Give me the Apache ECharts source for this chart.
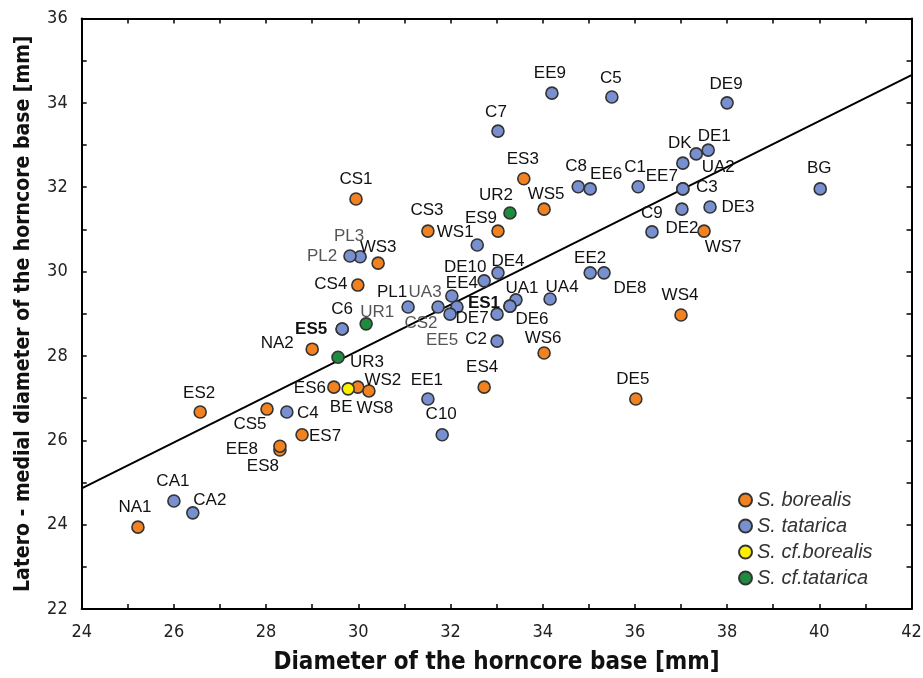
<!DOCTYPE html>
<html>
<head>
<meta charset="utf-8">
<script src="https://cdn.jsdelivr.net/npm/echarts@6/dist/echarts.min.js"></script>
<style>
html,body{margin:0;padding:0;background:#fff;}
#chart{width:923px;height:678px;}
</style>
</head>
<body>
<div id="chart"></div>
<script>
// ---- data ----
const borealisNames = ['CS1','CS3','ES9','ES3','WS5','WS3','CS4','WS7','NA2','WS6','ES4','DE5','WS4','ES6','WS2','WS8','CS5','ES7','ES8','EE8','ES2','NA1','ES1','ES5'];
const borealisX = [29.95,31.51,33.03,33.59,34.03,30.43,29.99,37.50,29.00,34.03,32.73,36.02,37.00,29.47,29.99,30.23,28.02,28.78,28.30,28.30,26.57,25.22,33.29,29.65];
const borealisY = [31.72,30.96,30.96,32.20,31.48,30.20,29.68,30.96,28.16,28.07,27.26,26.98,28.97,27.26,27.26,27.17,26.74,26.13,25.77,25.86,26.67,23.94,29.18,28.64];

const tataricaNames = ['EE9','C5','DE9','C7','C8','EE6','C1','DK','UA2','DE1','C3','EE7','DE3','DE2','C9','BG','WS1','PL3','PL2','DE10','DE4','EE4','PL1','UA3','CS2','EE5','DE7','UA1','DE6','UA4','EE2','DE8','C2','C6','EE1','C10','C4','CA1','CA2'];
const tataricaX = [34.20,35.50,38.00,33.03,34.77,35.03,36.07,37.04,37.33,37.59,37.04,37.04,37.63,37.02,36.37,40.02,32.58,30.04,29.82,32.73,33.03,32.03,31.08,31.73,32.14,31.99,33.01,33.42,33.29,34.16,35.03,35.33,33.01,29.65,31.51,31.82,28.45,26.00,26.41];
const tataricaY = [34.23,34.14,34.00,33.33,32.01,31.96,32.01,32.57,32.79,32.88,31.96,31.96,31.53,31.48,30.94,31.96,30.63,30.35,30.37,29.78,29.97,29.42,29.16,29.16,29.16,28.99,28.99,29.33,29.18,29.35,29.97,29.97,28.35,28.64,26.98,26.13,26.67,24.56,24.28];

const cfBorealisNames = ['BE'];
const cfBorealisX = [29.78];
const cfBorealisY = [27.22];

const cfTataricaNames = ['UR2','UR1','UR3'];
const cfTataricaX = [33.29,30.17,29.56];
const cfTataricaY = [31.39,28.76,27.97];

const seriesNames = ['S. borealis','S. tatarica','S. cf.borealis','S. cf.tatarica'];
const trendSlope = 0.5442;
const trendIntercept = 11.80;
const xMin = 24, xMax = 42, yMin = 22, yMax = 36;

// ---- label placement (pixel offsets from the point) ----
const labelOffset = {
  CS1:[0,-20], CS3:[-1,-21], ES9:[-17,-13], ES3:[-1,-19], WS5:[2,-15], WS3:[0,-16], CS4:[-27,-1],
  WS7:[19,16], NA2:[-35,-6], WS6:[-1,-15], ES4:[-2,-20], DE5:[-3,-20], WS4:[-1,-20], ES6:[-24,1],
  WS2:[25,-7], WS8:[6,17], CS5:[-17,15], ES7:[23,2], EE8:[-38,3], ES8:[-17,16], ES2:[-1,-19],
  NA1:[-3,-20], ES1:[-26,-3], ES5:[-31,0],
  EE9:[-2,-20], C5:[-1,-19], DE9:[-1,-19], C7:[-2,-19], C8:[-2,-20], EE6:[16,-15], C1:[-3,-19],
  DK:[-3,-20], UA2:[22,13], DE1:[6,-14], C3:[24,-2], EE7:[-21,-13], DE3:[28,0], DE2:[0,19],
  C9:[0,-19], BG:[-1,-21], WS1:[-22,-13], PL3:[-11,-20], PL2:[-28,0], DE10:[-19,-14], DE4:[10,-12],
  EE4:[10,-13], PL1:[-16,-15], UA3:[-13,-15], CS2:[-36,16], EE5:[-8,26], DE7:[-25,4], UA1:[6,-12],
  DE6:[22,13], UA4:[12,-12], EE2:[0,-15], DE8:[26,15], C2:[-21,-2], C6:[0,-20], EE1:[-1,-19],
  C10:[-1,-20], C4:[21,1], CA1:[-1,-20], CA2:[17,-13],
  UR2:[-14,-18], UR1:[11,-12], UR3:[29,5], BE:[-7,18]
};
const grayLabels = ['PL3','PL2','UR1','UA3','CS2','EE5'];
const boldLabels = ['ES1','ES5'];

const colors = ['#F28220','#7890D0','#FFF000','#1E8B40'];

function buildPoints(names, xs, ys) {
  return names.map((n, i) => {
    const off = labelOffset[n] || [0, -18];
    return {
      name: n,
      value: [xs[i], ys[i]],
      label: {
        offset: off,
        color: grayLabels.includes(n) ? '#555' : '#111',
        fontWeight: boldLabels.includes(n) ? 'bold' : 'normal'
      }
    };
  });
}

function scatterSeries(name, names, xs, ys, color) {
  return {
    name: name,
    type: 'scatter',
    symbol: 'circle',
    symbolSize: 12,
    itemStyle: { color: color, borderColor: '#333', borderWidth: 1.6, opacity: 1 },
    label: {
      show: true,
      position: 'inside',
      formatter: p => p.name,
      fontFamily: '"Liberation Sans", Arial, sans-serif',
      fontSize: 17,
      align: 'center',
      verticalAlign: 'middle'
    },
    emphasis: { disabled: true },
    data: buildPoints(names, xs, ys),
    z: 3
  };
}

const chart = echarts.init(document.getElementById('chart'), null, { renderer: 'canvas' });

const narrow = '"Liberation Sans Narrow", "DejaVu Sans Condensed", "Liberation Sans", sans-serif';
const tickFmt = v => (v % 2 === 0 ? String(v) : '');

const option = {
  animation: false,
  backgroundColor: '#fff',
  grid: { left: 81.7, right: 11.5, top: 18.5, bottom: 69, containLabel: false, outerBoundsMode: 'none' },
  legend: {
    data: seriesNames,
    orient: 'vertical',
    left: 733,
    top: 485,
    itemWidth: 13,
    itemHeight: 13,
    itemGap: 6,
    icon: 'circle',
    textStyle: { fontStyle: 'italic', fontSize: 20, color: '#333', fontFamily: '"Liberation Sans", Arial, sans-serif', lineHeight: 20 }
  },
  xAxis: [{
    type: 'value', min: xMin, max: xMax, interval: 1,
    name: 'Diameter of the horncore base [mm]',
    nameLocation: 'middle', nameGap: 42,
    nameTextStyle: { fontFamily: narrow, fontWeight: 'bold', fontSize: 24, color: '#111' },
    axisLine: { show: true, onZero: false, lineStyle: { color: '#000', width: 2 } },
    axisTick: { show: true, inside: true, length: 5, lineStyle: { color: '#000', width: 1.5 } },
    axisLabel: { formatter: tickFmt, fontFamily: narrow, fontSize: 18, color: '#222', margin: 14 },
    splitLine: { show: false }
  }, {
    type: 'value', min: xMin, max: xMax, interval: 1, position: 'top',
    axisLine: { show: true, onZero: false, lineStyle: { color: '#000', width: 2 } },
    axisTick: { show: true, inside: true, length: 5, lineStyle: { color: '#000', width: 1.5 } },
    axisLabel: { show: false }, splitLine: { show: false }
  }],
  yAxis: [{
    type: 'value', min: yMin, max: yMax, interval: 1,
    name: 'Latero - medial diameter of the horncore base [mm]',
    nameLocation: 'middle', nameGap: 48,
    nameTextStyle: { fontFamily: narrow, fontWeight: 'bold', fontSize: 21, color: '#111' },
    axisLine: { show: true, onZero: false, lineStyle: { color: '#000', width: 2 } },
    axisTick: { show: true, inside: true, length: 5, lineStyle: { color: '#000', width: 1.5 } },
    axisLabel: { formatter: tickFmt, fontFamily: narrow, fontSize: 18, color: '#222', margin: 14 },
    splitLine: { show: false }
  }, {
    type: 'value', min: yMin, max: yMax, interval: 1, position: 'right',
    axisLine: { show: true, onZero: false, lineStyle: { color: '#000', width: 2 } },
    axisTick: { show: true, inside: true, length: 5, lineStyle: { color: '#000', width: 1.5 } },
    axisLabel: { show: false }, splitLine: { show: false }
  }],
  series: [
    {
      type: 'line',
      name: 'trend',
      silent: true,
      symbol: 'none',
      lineStyle: { color: '#000', width: 2 },
      data: [[xMin, trendSlope * xMin + trendIntercept], [xMax, trendSlope * xMax + trendIntercept]],
      z: 2
    },
    scatterSeries(seriesNames[0], borealisNames, borealisX, borealisY, colors[0]),
    scatterSeries(seriesNames[1], tataricaNames, tataricaX, tataricaY, colors[1]),
    scatterSeries(seriesNames[2], cfBorealisNames, cfBorealisX, cfBorealisY, colors[2]),
    scatterSeries(seriesNames[3], cfTataricaNames, cfTataricaX, cfTataricaY, colors[3])
  ]
};
chart.setOption(option);
</script>
</body>
</html>
